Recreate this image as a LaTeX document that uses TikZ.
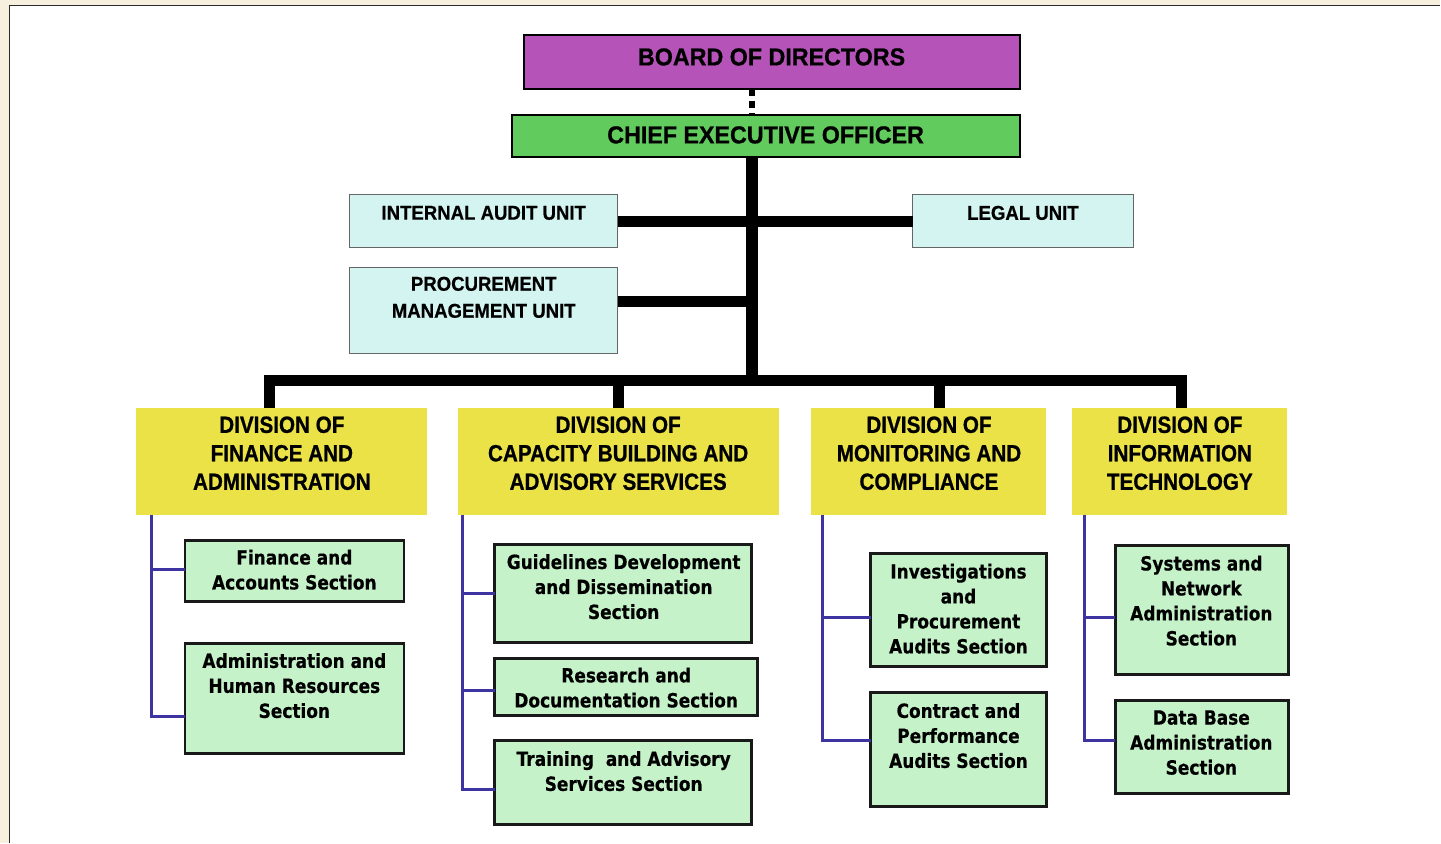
\documentclass[tikz,border=0pt]{standalone}
\usepackage{fontspec}
\newfontfamily\headfam[FakeStretch=0.95, BoldFeatures={FakeBold=0.8}]{Liberation Sans}
\newfontfamily\divfam[FakeStretch=0.88, BoldFeatures={FakeBold=0.8}]{Liberation Sans}
\newfontfamily\unitfam[FakeStretch=0.93, BoldFeatures={FakeBold=0.6}]{Liberation Sans}
\newfontfamily\secfam[FakeStretch=0.87, BoldFeatures={FakeBold=0.5}]{DejaVu Sans}

\definecolor{pagebg}{HTML}{F8F0DE}
\definecolor{boardc}{HTML}{B553B8}
\definecolor{ceoc}{HTML}{62CB5E}
\definecolor{unitc}{HTML}{D3F4F1}
\definecolor{divc}{HTML}{EAE247}
\definecolor{secc}{HTML}{C5F2C9}
\definecolor{subline}{HTML}{3D33A1}
\definecolor{framec}{HTML}{2A2A2A}

\newcommand\headfont{\headfam\bfseries\fontsize{24.5}{28}\selectfont}
\newcommand\divfont{\divfam\bfseries\fontsize{23.5}{28.5}\selectfont}
\newcommand\unitfont{\unitfam\bfseries\fontsize{20}{27}\selectfont}
\newcommand\secfont{\secfam\bfseries\fontsize{19.5}{25}\selectfont}

% rectangle node from its pixel corners: style, x1, y1, x2, y2, name
\newcommand\orgbox[6]{%
  \node[#1, minimum width={(#4-#2)*1pt}, minimum height={(#5-#3)*1pt}]
    (#6) at ({(#2+#4)/2},{(#3+#5)/2}) {};}

\begin{document}
\begin{tikzpicture}[x=1pt,y=-1pt,
  base/.style={rectangle, inner sep=0pt, outer sep=0pt},
  boardbox/.style={base, fill=boardc, draw=black, line width=2pt},
  ceobox/.style={base, fill=ceoc, draw=black, line width=2pt},
  unitbox/.style={base, fill=unitc, draw=black!60, line width=1pt},
  divbox/.style={base, fill=divc},
  secbox/.style={base, fill=secc, draw=black!90, line width=2.5pt},
  txt/.style={align=center, inner sep=0pt, anchor=center},
  headtxt/.style={txt, font=\headfont},
  divtxt/.style={txt, font=\divfont},
  unittxt/.style={txt, font=\unitfont},
  sectxt/.style={txt, font=\secfont},
  heavyline/.style={line width=11pt, black},
  subconn/.style={line width=3pt, subline},
  dotlink/.style={line width=6pt, black, dash pattern=on 7pt off 5pt}]

% page and frame
\fill[pagebg] (0,0) rectangle (1441,843);
\fill[white] (9,5) rectangle (1441,843);
\draw[framec, line width=1.6pt] (9.5,843) -- (9.5,5.5) -- (1441,5.5);
\useasboundingbox (0,0) rectangle (1441,843);

% boxes
\orgbox{boardbox}{524}{35}{1021}{89}{board}
\orgbox{ceobox}{512}{115}{1021}{157}{ceo}
\orgbox{unitbox}{350}{195}{618}{248}{ia}
\orgbox{unitbox}{913}{195}{1134}{248}{legal}
\orgbox{unitbox}{350}{268}{618}{354}{proc}
\orgbox{divbox}{136}{408}{427}{515}{d1}
\orgbox{divbox}{458}{408}{779}{515}{d2}
\orgbox{divbox}{811}{408}{1047}{515}{d3}
\orgbox{divbox}{1073}{408}{1288}{515}{d4}
\orgbox{secbox}{185}{541}{404}{602}{fa}
\orgbox{secbox}{185}{644}{404}{754}{ahr}
\orgbox{secbox}{495}{545}{752}{643}{gd}
\orgbox{secbox}{495}{659}{758}{716}{rd}
\orgbox{secbox}{495}{741}{752}{825}{tr}
\orgbox{secbox}{871}{554}{1047}{667}{inv}
\orgbox{secbox}{871}{693}{1047}{807}{con}
\orgbox{secbox}{1116}{546}{1289}{675}{sys}
\orgbox{secbox}{1116}{701}{1289}{794}{db}

% spine and sub-spines
\coordinate (spine) at (752,381);
\coordinate (v1) at (152,515);
\coordinate (v2) at (463,515);
\coordinate (v3) at (823,515);
\coordinate (v4) at (1085,515);

% board to chief executive
\draw[dotlink] (board.south -| spine) -- (ceo.north -| spine);

% main trunk, units and division bus
\draw[heavyline, line width=12pt] (ceo.south -| spine) -- (spine);
\draw[heavyline] (ia.east) -- (legal.west);
\draw[heavyline] ([yshift=9pt]proc.east) -- ([yshift=9pt]proc.east -| spine);
\draw[heavyline] ([xshift=-11.5pt]d1.north) -- ([xshift=-11.5pt]d1.north |- spine)
  -- ([xshift=1.5pt]d4.north |- spine) -- ([xshift=1.5pt]d4.north);
\draw[heavyline] (d2.north) -- (d2.north |- spine);
\draw[heavyline] ([xshift=11pt]d3.north) -- ([xshift=11pt]d3.north |- spine);

% sections under each division
\draw[subconn] (v1) |- ([yshift=-18pt]ahr.west);
\draw[subconn] ([yshift=1.5pt]fa.west -| v1) -- ([yshift=1.5pt]fa.west);

\draw[subconn] (v2) |- ([yshift=-7pt]tr.west);
\draw[subconn] (gd.west -| v2) -- (gd.west);
\draw[subconn] ([yshift=-3.5pt]rd.west -| v2) -- ([yshift=-3.5pt]rd.west);

\draw[subconn] (v3) |- ([yshift=9pt]con.west);
\draw[subconn] ([yshift=-7.5pt]inv.west -| v3) -- ([yshift=-7.5pt]inv.west);

\draw[subconn] (v4) |- ([yshift=6.5pt]db.west);
\draw[subconn] ([yshift=-7.5pt]sys.west -| v4) -- ([yshift=-7.5pt]sys.west);

% texts
\node[headtxt] (boardt) at (772,57) {BOARD OF DIRECTORS};
\node[headtxt] (ceot) at (766,135) {CHIEF EXECUTIVE OFFICER};
\node[unittxt] (iat) at (484,213) {INTERNAL AUDIT UNIT};
\node[unittxt] (legalt) at (1023.5,213) {LEGAL UNIT};
\node[unittxt] (proct) at (484,297.5) {PROCUREMENT\\MANAGEMENT UNIT};

\node[divtxt] (d1t) at (282,453.5) {DIVISION OF\\FINANCE AND\\ADMINISTRATION};
\node[divtxt] (d2t) at (618.5,453.5) {DIVISION OF\\CAPACITY BUILDING AND\\ADVISORY SERVICES};
\node[divtxt] (d3t) at (929.5,453.5) {DIVISION OF\\MONITORING AND\\COMPLIANCE};
\node[divtxt] (d4t) at (1180.5,453.5) {DIVISION OF\\INFORMATION\\TECHNOLOGY};

\node[sectxt] (fat) at (294.5,570) {Finance and\\Accounts Section};
\node[sectxt] (ahrt) at (294.5,686) {Administration and\\Human Resources\\Section};
\node[sectxt] (gdt) at (624,587) {Guidelines Development\\and Dissemination\\Section};
\node[sectxt] (rdt) at (626.5,688) {Research and\\Documentation Section};
\node[sectxt] (trt) at (624,771.5) {Training~ and Advisory\\Services Section};
\node[sectxt] (invt) at (959,609) {Investigations\\and\\Procurement\\Audits Section};
\node[sectxt] (cont) at (959,736) {Contract and\\Performance\\Audits Section};
\node[sectxt] (syst) at (1202,601) {Systems and\\Network\\Administration\\Section};
\node[sectxt] (dbt) at (1202,743) {Data Base\\Administration\\Section};
\end{tikzpicture}
\end{document}
